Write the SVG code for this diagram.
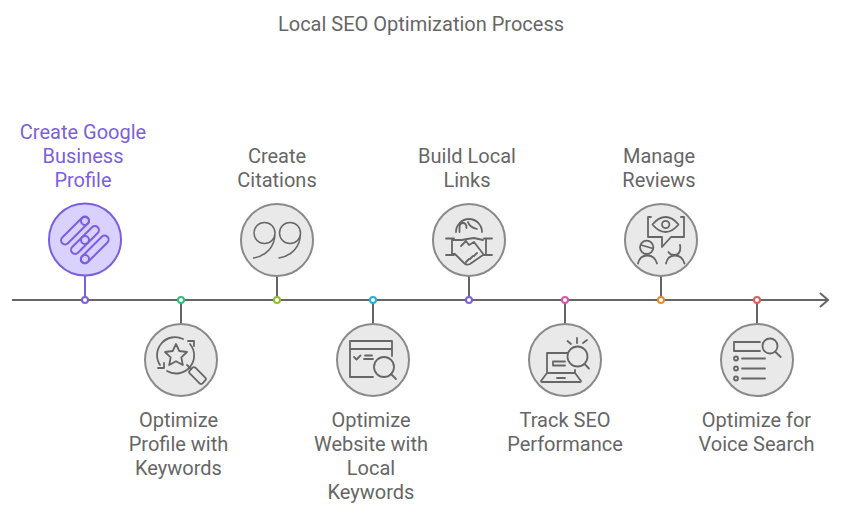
<svg xmlns="http://www.w3.org/2000/svg" width="841" height="516" viewBox="0 0 841 516">
<style>
text{font-family:Roboto,"Liberation Sans",sans-serif;font-size:20px;fill:#666;text-anchor:middle}
.c{fill:#e9e9e9;stroke:#8a8a8a;stroke-width:2}
.i{fill:none;stroke:#666;stroke-width:1.800;stroke-linecap:round;stroke-linejoin:round}
.l{stroke:#666;stroke-width:2;fill:none}
.d{fill:#fff;stroke-width:2}
</style>
<rect width="841" height="516" fill="#fff"/>
<text x="421" y="31">Local SEO Optimization Process</text>
<g id="connectors">
<path class="l" d="M12 300H828M820 293l8 7-8 7"/>
<path d="M85 275V300" stroke="#7b5fe0" stroke-width="2" fill="none"/>
<path class="l" d="M181 300V324M277 276V300M373 300V324M469 276V300M565 300V324M661 276V300M757 300V324"/>
<circle class="d" cx="85" cy="300" r="3" stroke="#7b5fe0"/>
<circle class="d" cx="181" cy="300" r="3" stroke="#2fbf7f"/>
<circle class="d" cx="277" cy="300" r="3" stroke="#8fbf2a"/>
<circle class="d" cx="373" cy="300" r="3" stroke="#1fb0e0"/>
<circle class="d" cx="469" cy="300" r="3" stroke="#7b5fe0"/>
<circle class="d" cx="565" cy="300" r="3" stroke="#dd55a8"/>
<circle class="d" cx="661" cy="300" r="3" stroke="#e8892a"/>
<circle class="d" cx="757" cy="300" r="3" stroke="#e55a5a"/>
</g>
<g id="node1">
<circle cx="85" cy="239.500" r="36" fill="#d9d2ff" stroke="#7b5fe0" stroke-width="2"/>
<g fill="none" stroke="#7b5fe0" stroke-width="2">
<rect x="-4" y="-18" width="8" height="36" rx="4" transform="translate(75 230.500) rotate(45)"/>
<rect x="-4" y="-18" width="8" height="36" rx="4" transform="translate(85 240) rotate(45)"/>
<rect x="-4" y="-18" width="8" height="36" rx="4" transform="translate(94.700 249.500) rotate(45)"/>
<circle cx="85" cy="221" r="4"/><circle cx="85" cy="240" r="4"/><circle cx="85" cy="259" r="4"/>
</g>
<text x="83" y="139" style="fill:#7b5fe0">Create Google</text>
<text x="83" y="163" style="fill:#7b5fe0">Business</text>
<text x="83" y="187" style="fill:#7b5fe0">Profile</text>
</g>
<g id="node2">
<circle class="c" cx="181" cy="360" r="36"/>
<path class="i" d="M183 339a18 18 0 0 0-23 26M190 344a18 18 0 0 1-23 27"/>
<path class="i" d="M188 341h6v5M158 368h6v-5"/>
<path class="i" d="M176 344l3.300 7 7.700 1-5.700 5.300 1.500 7.700-6.800-3.800-6.800 3.800 1.500-7.700-5.700-5.300 7.700-1z"/>
<rect class="i" x="-4" y="-9" width="8" height="18" rx="2" transform="translate(197.500 375.500) rotate(-45)"/>
<path class="i" d="M187 365l4 4"/>
<text x="178.500" y="427">Optimize</text>
<text x="178.500" y="451">Profile with</text>
<text x="178.500" y="475">Keywords</text>
</g>
<g id="node3">
<circle class="c" cx="277" cy="240" r="36"/>
<path class="i" style="stroke-width:1.500" d="M275 233a10.500 10.500 0 1 0-21 0a10.500 10.500 0 1 0 21 0c0 14-9 23-21.500 25M300.500 233a10.500 10.500 0 1 0-21 0a10.500 10.500 0 1 0 21 0c0 14-9 23-21.500 25"/>
<text x="277" y="163">Create</text>
<text x="277" y="187">Citations</text>
</g>
<g id="node4">
<circle class="c" cx="373" cy="360" r="36"/>
<path class="i" d="M373 377H350V341H392V356M350 349H392M354 357l2.500 2.500 4-4M365 355.500h7M364 359h9"/>
<circle class="i" cx="384" cy="367" r="10"/>
<path class="i" d="M391 374l5 5"/>
<text x="371" y="427">Optimize</text>
<text x="371" y="451">Website with</text>
<text x="371" y="475">Local</text>
<text x="371" y="499">Keywords</text>
</g>
<g id="node5">
<circle class="c" cx="469" cy="240" r="36"/>
<path class="i" d="M456 232a13 13 0 0 1 26 0M459.500 232v-4c0-3 1.500-5 3.500-5s3.500 2 3.500 5M468 222c1 4 5 6 9 7"/>
<path class="i" d="M446 238.500h8M446 255h8M484 238.500h8M484 255h8M452 238.500v16.500M486 238.500v16.500"/>
<path class="i" d="M453 240h9l5-1 7-1 9 2M453 254h2l9 9c2 2 4 2 6 1l13-9M461 246l5-5 3 4 5-3 10 13M469 259l-3 3M473 256l-3 3M477 253l-3 3"/>
<text x="467" y="163">Build Local</text>
<text x="467" y="187">Links</text>
</g>
<g id="node6">
<circle class="c" cx="565" cy="360" r="36"/>
<path class="i" d="M547 372V353H568M575 370v3M547 373h28l6 8c0 1 0 1-1 1H542c-1 0-1 0-1-1zM565 361.500h-12v4h12M557 378h8"/>
<circle class="i" cx="577.500" cy="356.500" r="10"/>
<path class="i" d="M584.500 364l4.500 4.500M577 338v5M567.500 341l3.500 3M587 340l-4 3"/>
<text x="565" y="427">Track SEO</text>
<text x="565" y="451">Performance</text>
</g>
<g id="node7">
<circle class="c" cx="661" cy="240" r="36"/>
<path class="i" d="M651 217h-3v20h14v10l9-10h13v-20h-3M652.500 224.500c4-5 8-7.500 13-7.500s9 2.500 13 7.500c-4 5-8 7.500-13 7.500s-9-2.500-13-7.500z"/>
<circle class="i" cx="665.700" cy="224.500" r="3.700"/>
<circle class="i" cx="646.700" cy="247.300" r="6.700"/>
<path class="i" d="M641 245l12 3.500M638 263.500c1-5 4-8 9.500-8s8 3 9.500 8M680 245c1 6-1 10-5.500 10-3 0-5-1-6-3M666 263.500c1-5 4-8 9-8s8 3 9.500 8"/>
<text x="659" y="163">Manage</text>
<text x="659" y="187">Reviews</text>
</g>
<g id="node8">
<circle class="c" cx="757" cy="360" r="36"/>
<path class="i" d="M760 342H734V351H760M742 358.500H765M742 368.500H765M742 378.500H765"/>
<circle class="i" cx="736" cy="358.500" r="2"/><circle class="i" cx="736" cy="368.500" r="2"/><circle class="i" cx="736" cy="378.500" r="2"/>
<circle class="i" cx="770" cy="346" r="7.500"/>
<path class="i" d="M775 351.500l5.700 5.500"/>
<text x="756.500" y="427">Optimize for</text>
<text x="756.500" y="451">Voice Search</text>
</g>
</svg>
